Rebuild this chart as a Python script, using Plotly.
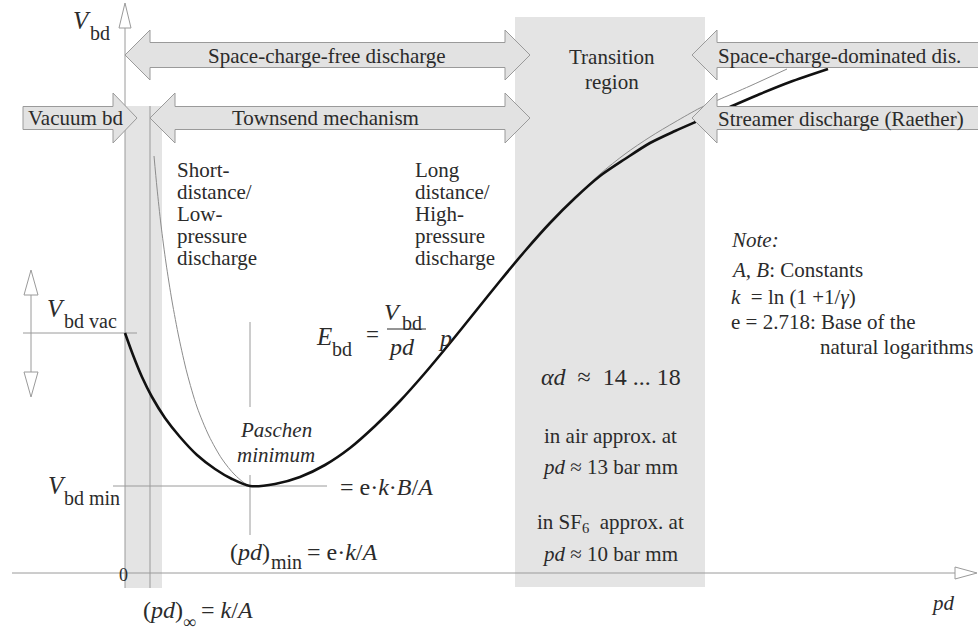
import plotly.graph_objects as go

# Canvas size and where the pd / V_bd axes cross on it
W, H = 978, 632
OX, OY = 125, 573


def cx(px):
    return px - OX


def cy(py):
    return OY - py


# Breakdown voltage curve (thick): pd from the axis origin, V_bd above the pd axis
paschen_pd = [0, 8, 17, 27, 40, 55, 72, 90, 107, 125, 150, 175, 200, 225, 250, 275,
              300, 325, 350, 375, 400, 425, 450, 475, 500, 525, 550, 575, 605, 635, 665, 703]
paschen_v = [240, 218, 196, 176, 155, 136, 118, 104, 94, 87, 89, 96, 108, 125, 147, 172,
             200, 230, 261, 292, 322, 350, 375, 397, 414, 430, 442, 453, 466, 479, 491, 504]

# Paschen law curve (thin), asymptotic to (pd)_inf on the left
law_pd = [29, 32, 36, 41, 47, 54, 62, 72, 84, 97, 110, 125, 150, 175, 200, 225, 250, 275,
          300, 325, 350, 375, 400, 425, 450, 475, 500, 525, 550, 575, 593, 625, 662]
law_v = [417, 385, 348, 310, 272, 235, 200, 166, 137, 114, 98, 87, 89, 96, 108, 125, 147, 172,
         200, 230, 261, 292, 322, 350, 375, 399, 419, 436, 451, 465, 473, 487, 504]

FONT = "Liberation Serif, Times New Roman, serif"
TXT = "#2b2b2b"
AXC = "#9a9a9a"
BAND = "#e4e4e4"
ARW = "#e2e2e2"

fig = go.Figure()
fig.add_trace(go.Scatter(x=law_pd, y=law_v, mode="lines",
                         line=dict(color="#8c8c8c", width=1, shape="spline", smoothing=0.8),
                         hoverinfo="skip"))
fig.add_trace(go.Scatter(x=paschen_pd, y=paschen_v, mode="lines",
                         line=dict(color="#111111", width=2.6, shape="spline", smoothing=0.8),
                         hoverinfo="skip"))

shapes = []


def rect(x0, y0, x1, y1, fill, layer="below"):
    shapes.append(dict(type="rect", xref="x", yref="y", x0=cx(x0), x1=cx(x1), y0=cy(y0), y1=cy(y1),
                       fillcolor=fill, line=dict(width=0), layer=layer))


def seg(x0, y0, x1, y1, color=AXC, width=1, layer="below"):
    shapes.append(dict(type="line", xref="x", yref="y", x0=cx(x0), x1=cx(x1), y0=cy(y0), y1=cy(y1),
                       line=dict(color=color, width=width), layer=layer))


def poly(pts, fill, color=AXC, layer="above"):
    path = "M " + " L ".join(f"{cx(x)},{cy(y)}" for x, y in pts) + " Z"
    shapes.append(dict(type="path", xref="x", yref="y", path=path, fillcolor=fill,
                       line=dict(color=color, width=1), layer=layer))


# shaded regions
rect(125, 106, 162, 588, BAND)
rect(515, 17, 705, 587, BAND)
seg(150, 106, 150, 588)

# axes with open arrow heads
seg(125, 28, 125, 588)
poly([(125, 3), (119, 28), (131, 28)], "white", layer="below")
seg(12, 573, 955, 573)
poly([(977, 573), (955, 567), (955, 579)], "white", layer="below")

# V_bd vac marker with double arrow
seg(23, 333, 137, 333)
seg(31, 295, 31, 372)
poly([(31, 270), (24, 295), (38, 295)], "white", layer="below")
poly([(31, 397), (24, 372), (38, 372)], "white", layer="below")

# Paschen minimum guides
seg(113, 486, 327, 486)
seg(250, 322, 250, 407)
seg(250, 475, 250, 535)

# fraction bar of the field-strength formula
seg(387, 329, 426, 329, color=TXT, width=1)


def double_arrow(L, R, c, head=25, h=25, b=12.5):
    poly([(L, c), (L + head, c - h), (L + head, c - b), (R - head, c - b), (R - head, c - h), (R, c),
          (R - head, c + h), (R - head, c + b), (L + head, c + b), (L + head, c + h)], ARW)


def left_arrow(L, E, c, head=25, h=25, b=12.5):
    poly([(L, c), (L + head, c - h), (L + head, c - b), (E, c - b), (E, c + b), (L + head, c + b),
          (L + head, c + h)], ARW)


def right_arrow(S, R, c, head=24, h=25, b=12):
    poly([(S, c - b), (R - head, c - b), (R - head, c - h), (R, c), (R - head, c + h), (R - head, c + b),
          (S, c + b)], ARW)


double_arrow(125, 530, 55)
left_arrow(692, 995, 55)
right_arrow(23, 137, 118, b=11.5)
double_arrow(150, 530, 118, b=11.5)
left_arrow(692, 995, 118, b=11.5)

annotations = []


def text(s, px, py, size=21, anchor="center", italic=False):
    if italic:
        s = f"<i>{s}</i>"
    annotations.append(dict(text=s, x=cx(px), y=cy(py), xref="x", yref="y", showarrow=False,
                            xanchor=anchor, yanchor="middle", font=dict(family=FONT, size=size, color=TXT)))


# axis titles
text("V", 93, 20, size=25, anchor="right", italic=True)
text("bd", 88, 33, size=20, anchor="left")
text("pd", 943, 603, italic=True)
text("0", 123, 575, size=18)

# regime arrows
text("Space-charge-free discharge", 327, 56)
text("Transition", 612, 57)
text("region", 612, 82)
text("Space-charge-dominated dis.", 716, 56, anchor="left")
text("Vacuum bd", 26, 118, anchor="left")
text("Townsend mechanism", 325, 118)
text("Streamer discharge (Raether)", 716, 119, anchor="left")

for i, line in enumerate(["Short-", "distance/", "Low-", "pressure", "discharge"]):
    text(line, 175, 170 + 22 * i, anchor="left")
for i, line in enumerate(["Long", "distance/", "High-", "pressure", "discharge"]):
    text(line, 413, 170 + 22 * i, anchor="left")

# characteristic voltages
text("V", 67, 308, size=25, anchor="right", italic=True)
text("bd vac", 62, 321, size=20, anchor="left")
text("V", 68, 485, size=25, anchor="right", italic=True)
text("bd min", 62, 498, size=20, anchor="left")
text("= e·<i>k</i>·<i>B</i>/<i>A</i>", 338, 487, size=24, anchor="left")
text("Paschen", 276, 430, italic=True)
text("minimum", 276, 455, italic=True)

# characteristic pd values
text("(<i>pd</i>)", 228, 552, size=24, anchor="left")
text("min", 269, 562, size=20, anchor="left")
text("= e·<i>k</i>/<i>A</i>", 305, 552, size=24, anchor="left")
text("(<i>pd</i>)", 141, 610, size=24, anchor="left")
text("∞", 181, 622, size=18, anchor="left")
text("= <i>k</i>/<i>A</i>", 199, 610, size=24, anchor="left")

# breakdown field strength
text("E", 334, 336, size=25, anchor="right", italic=True)
text("bd", 330, 349, size=20, anchor="left")
text("=", 372, 334, size=23)
text("V", 403, 312, size=24, anchor="right", italic=True)
text("bd", 400, 323, size=20, anchor="left")
text("pd", 401, 347, size=24, italic=True)
text("p", 445, 338, size=24, italic=True)

# transition region
text("<i>αd</i>  ≈  14 ... 18", 611, 377, size=24)
text("in air approx. at", 610, 436)
text("<i>pd</i> ≈ 13 bar mm", 610, 467)
text("in SF<sub>6</sub>  approx. at", 610, 523)
text("<i>pd</i> ≈ 10 bar mm", 610, 554)

# note
text("Note:", 729, 240, italic=True, anchor="left")
text("<i>A, B</i>: Constants", 729, 270, anchor="left")
text("<i>k</i>  = ln (1 +1/<i>γ</i>)", 729, 297, anchor="left")
text("e = 2.718: Base of the", 729, 322, anchor="left")
text("natural logarithms", 818, 347, anchor="left")

fig.update_layout(
    width=W, height=H, autosize=False,
    margin=dict(l=0, r=0, t=0, b=0, pad=0),
    paper_bgcolor="white", plot_bgcolor="white",
    showlegend=False,
    xaxis=dict(range=[cx(0), cx(W)], visible=False, fixedrange=True),
    yaxis=dict(range=[cy(H), cy(0)], visible=False, fixedrange=True),
    shapes=shapes, annotations=annotations,
)

fig.write_html("out.html")
